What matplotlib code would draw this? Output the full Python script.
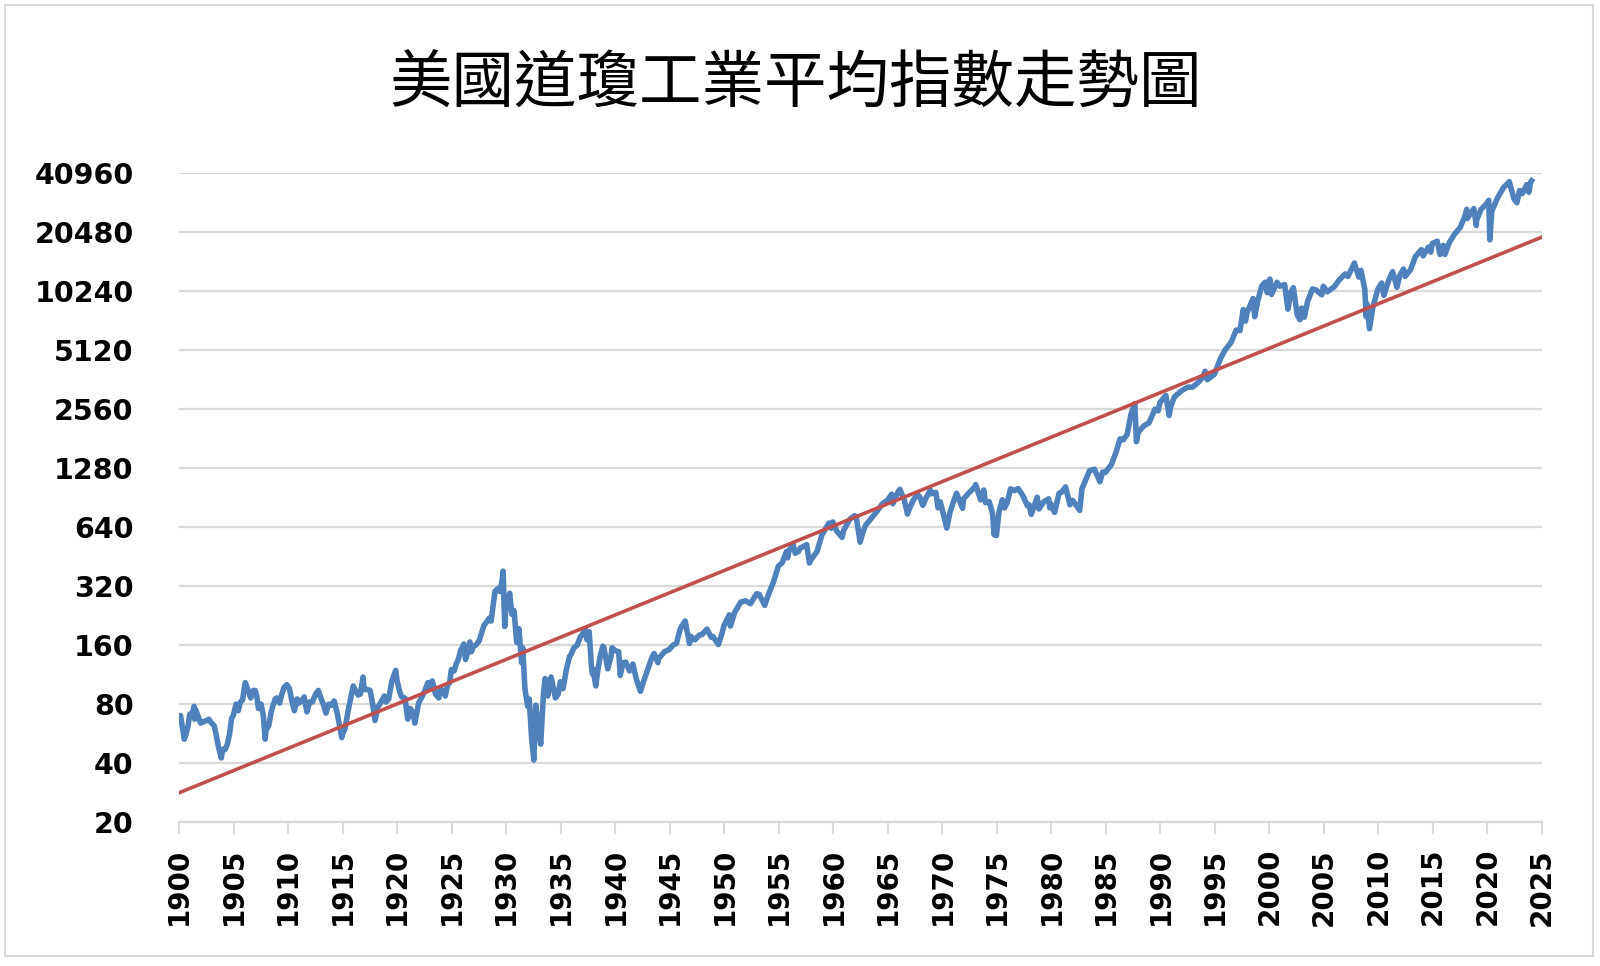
import matplotlib
matplotlib.use("Agg")
import matplotlib.pyplot as plt
from matplotlib.patches import Rectangle
from matplotlib.ticker import FixedLocator, NullLocator

# Dow Jones Industrial Average, (year, index)
dow_1900_1924 = [
    (1900.0, 68), (1900.1, 70), (1900.3, 60), (1900.45, 53), (1900.6, 56), (1900.8, 62), (1900.95, 71),
    (1901.2, 72), (1901.35, 78), (1901.4, 67), (1901.5, 75), (1901.7, 70), (1901.95, 64),
    (1902.2, 65), (1902.5, 66), (1902.7, 67), (1902.95, 64),
    (1903.2, 62), (1903.4, 55), (1903.6, 48), (1903.85, 42.5), (1903.95, 47),
    (1904.2, 47), (1904.4, 50), (1904.6, 56), (1904.8, 68), (1904.95, 70),
    (1905.2, 80), (1905.4, 74), (1905.6, 82), (1905.8, 84), (1905.95, 96),
    (1906.05, 103), (1906.3, 94), (1906.55, 86), (1906.8, 94), (1906.95, 94),
    (1907.1, 88), (1907.25, 76), (1907.5, 80), (1907.7, 70), (1907.87, 53), (1907.95, 59),
    (1908.2, 62), (1908.4, 72), (1908.6, 79), (1908.8, 85), (1908.95, 86),
    (1909.2, 81), (1909.4, 90), (1909.6, 97), (1909.85, 100.5), (1909.95, 99),
    (1910.1, 96), (1910.3, 84), (1910.55, 74), (1910.8, 85), (1910.95, 81),
    (1911.2, 83), (1911.45, 87), (1911.7, 73), (1911.95, 82),
    (1912.2, 82), (1912.5, 90), (1912.75, 94), (1912.95, 87),
    (1913.2, 80), (1913.45, 72), (1913.7, 80), (1913.95, 79),
    (1914.2, 83), (1914.5, 71), (1914.9, 54), (1914.95, 56),
    (1915.2, 60), (1915.5, 75), (1915.7, 85), (1915.95, 99),
    (1916.2, 93), (1916.4, 89), (1916.6, 90), (1916.85, 110), (1916.95, 95),
    (1917.2, 95), (1917.5, 94), (1917.75, 79), (1917.95, 66),
    (1918.2, 77), (1918.5, 82), (1918.8, 88), (1918.95, 82),
    (1919.2, 85), (1919.5, 105), (1919.85, 119), (1919.95, 107),
    (1920.2, 93), (1920.4, 87), (1920.7, 86), (1920.95, 67),
    (1921.2, 76), (1921.45, 72), (1921.6, 64), (1921.8, 73), (1921.95, 81),
    (1922.2, 86), (1922.5, 93), (1922.8, 103), (1922.95, 98),
    (1923.2, 105), (1923.5, 90), (1923.8, 86), (1923.95, 95),
    (1924.2, 94), (1924.4, 88), (1924.6, 100), (1924.8, 103), (1924.95, 120),
]
dow_1925_1949 = [
    (1925.2, 118), (1925.4, 128), (1925.6, 136), (1925.8, 150), (1925.95, 156),
    (1926.1, 162), (1926.25, 135), (1926.5, 150), (1926.65, 166), (1926.8, 148), (1926.95, 157),
    (1927.2, 160), (1927.5, 168), (1927.8, 190), (1927.95, 202),
    (1928.2, 210), (1928.45, 220), (1928.6, 212), (1928.8, 258), (1928.95, 300),
    (1929.2, 310), (1929.4, 300), (1929.6, 340), (1929.7, 381), (1929.82, 230), (1929.85, 199), (1929.95, 248),
    (1930.2, 270), (1930.3, 294), (1930.5, 230), (1930.7, 240), (1930.95, 165),
    (1931.15, 194), (1931.4, 130), (1931.5, 155), (1931.7, 96), (1931.95, 78),
    (1932.1, 85), (1932.3, 55), (1932.52, 41.5), (1932.7, 79), (1932.95, 60),
    (1933.15, 50), (1933.4, 90), (1933.55, 108), (1933.8, 88), (1933.95, 99),
    (1934.1, 110), (1934.5, 86), (1934.75, 90), (1934.95, 104),
    (1935.2, 96), (1935.5, 120), (1935.8, 140), (1935.95, 144),
    (1936.2, 155), (1936.5, 160), (1936.8, 177), (1936.95, 180),
    (1937.2, 194), (1937.4, 170), (1937.6, 187), (1937.8, 125), (1937.9, 114), (1937.95, 121),
    (1938.2, 99), (1938.4, 120), (1938.6, 140), (1938.85, 158), (1938.95, 155),
    (1939.3, 121), (1939.6, 140), (1939.7, 155), (1939.95, 150),
    (1940.3, 148), (1940.45, 112), (1940.7, 130), (1940.95, 131),
    (1941.3, 118), (1941.6, 128), (1941.95, 106),
    (1942.3, 93), (1942.6, 105), (1942.95, 119),
    (1943.3, 136), (1943.55, 145), (1943.9, 130), (1943.95, 136),
    (1944.5, 148), (1944.95, 152),
    (1945.3, 160), (1945.6, 163), (1945.95, 193),
    (1946.1, 200), (1946.4, 212), (1946.8, 163), (1946.95, 177),
    (1947.3, 170), (1947.7, 180), (1947.95, 181),
    (1948.4, 193), (1948.8, 175), (1948.95, 177),
    (1949.45, 161), (1949.8, 185), (1949.95, 200),
]
dow_1950_1974 = [
    (1950.45, 228), (1950.55, 200), (1950.95, 235),
    (1951.5, 265), (1951.95, 269),
    (1952.4, 260), (1952.95, 292),
    (1953.2, 290), (1953.7, 255), (1953.95, 281),
    (1954.5, 335), (1954.95, 404),
    (1955.3, 420), (1955.7, 480), (1955.8, 445), (1955.95, 488),
    (1956.3, 521), (1956.5, 470), (1956.8, 480), (1956.95, 499),
    (1957.55, 520), (1957.8, 419), (1957.95, 436),
    (1958.5, 480), (1958.95, 584),
    (1959.6, 670), (1959.8, 630), (1959.95, 679),
    (1960.3, 610), (1960.8, 566), (1960.95, 616),
    (1961.5, 700), (1961.95, 731),
    (1962.1, 720), (1962.45, 535), (1962.7, 600), (1962.95, 652),
    (1963.5, 710), (1963.95, 763),
    (1964.5, 840), (1964.95, 874),
    (1965.35, 940), (1965.45, 840), (1965.95, 969),
    (1966.1, 995), (1966.5, 880), (1966.8, 744), (1966.95, 786),
    (1967.3, 870), (1967.7, 943), (1967.95, 905),
    (1968.2, 825), (1968.5, 900), (1968.9, 985), (1968.95, 944),
    (1969.4, 960), (1969.6, 800), (1969.8, 860), (1969.95, 800),
    (1970.4, 631), (1970.7, 760), (1970.95, 839),
    (1971.3, 950), (1971.85, 797), (1971.95, 890),
    (1972.4, 950), (1972.95, 1020),
    (1973.05, 1052), (1973.5, 880), (1973.8, 987), (1973.95, 851),
    (1974.3, 860), (1974.6, 750), (1974.75, 584), (1974.85, 670), (1974.95, 578),
]
dow_1975_2024 = [
    (1975.2, 770), (1975.5, 880), (1975.7, 800), (1975.95, 852),
    (1976.25, 1000), (1976.6, 980), (1976.95, 1004),
    (1977.4, 920), (1977.8, 820), (1977.95, 831),
    (1978.15, 742), (1978.7, 907), (1978.85, 790), (1978.95, 805),
    (1979.3, 860), (1979.75, 890), (1979.85, 800), (1979.95, 839),
    (1980.3, 759), (1980.7, 950), (1980.95, 964),
    (1981.3, 1024), (1981.7, 830), (1981.95, 875),
    (1982.6, 777), (1982.8, 1000), (1982.95, 1047),
    (1983.5, 1240), (1983.95, 1259),
    (1984.45, 1087), (1984.7, 1220), (1984.95, 1212),
    (1985.5, 1330), (1985.95, 1547),
    (1986.3, 1800), (1986.6, 1780), (1986.95, 1896),
    (1987.3, 2400), (1987.65, 2722), (1987.8, 1739), (1987.95, 1939),
    (1988.5, 2100), (1988.95, 2169),
    (1989.5, 2550), (1989.8, 2500), (1989.95, 2753),
    (1990.5, 2999), (1990.8, 2365), (1990.95, 2634),
    (1991.3, 2950), (1991.95, 3169),
    (1992.5, 3300), (1992.95, 3301),
    (1993.5, 3500), (1993.95, 3754),
    (1994.1, 3978), (1994.3, 3600), (1994.95, 3834),
    (1995.5, 4600), (1995.95, 5117),
    (1996.5, 5600), (1996.95, 6448),
    (1997.3, 6400), (1997.6, 8200), (1997.8, 7160), (1997.95, 7908),
    (1998.5, 9338), (1998.65, 7539), (1998.95, 9181),
    (1999.3, 10800), (1999.6, 11300), (1999.8, 10000), (1999.95, 11497),
    (2000.05, 11723), (2000.2, 9796), (2000.7, 11300), (2000.95, 10787),
    (2001.4, 11000), (2001.7, 8236), (2001.95, 10022),
    (2002.2, 10600), (2002.55, 7700), (2002.8, 7286), (2002.95, 8342),
    (2003.2, 7500), (2003.5, 9000), (2003.95, 10454),
    (2004.3, 10300), (2004.8, 9750), (2004.95, 10783),
    (2005.3, 10100), (2005.95, 10718),
    (2006.4, 11600), (2006.95, 12463),
    (2007.2, 12100), (2007.8, 14165), (2007.95, 13265),
    (2008.2, 12000), (2008.4, 13000), (2008.75, 10400), (2008.88, 7552), (2008.95, 8776),
    (2009.18, 6547), (2009.5, 8500), (2009.95, 10428),
    (2010.3, 11200), (2010.5, 9700), (2010.95, 11578),
    (2011.3, 12800), (2011.7, 10650), (2011.95, 12218),
    (2012.3, 13200), (2012.45, 12100), (2012.95, 13104),
    (2013.4, 15300), (2013.95, 16577),
    (2014.1, 15400), (2014.6, 17100), (2014.8, 16100), (2014.95, 17823),
    (2015.4, 18300), (2015.65, 15660), (2015.95, 17425),
    (2016.1, 15660), (2016.5, 18000), (2016.95, 19763),
    (2017.5, 21500), (2017.95, 24719),
    (2018.1, 26600), (2018.15, 23860), (2018.75, 26828), (2018.98, 22000), (2019.0, 23327),
    (2019.4, 26500), (2019.95, 28538),
    (2020.12, 29551), (2020.22, 18591), (2020.4, 26000), (2020.95, 30606),
    (2021.5, 34500), (2021.95, 36338),
    (2022.0, 36800), (2022.45, 30000), (2022.7, 28725), (2022.95, 33147),
    (2023.2, 32000), (2023.6, 35500), (2023.8, 32500), (2023.95, 36500),
    (2024.05, 37200),
]

trend_years = [1900, 2025]
trend_vals = [28.3, 19200]

y_ticks = [20, 40, 80, 160, 320, 640, 1280, 2560, 5120, 10240, 20480, 40960]
x_ticks = list(range(1900, 2026, 5))

title = "美國道瓊工業平均指數走勢圖"

pts = dow_1900_1924 + dow_1925_1949 + dow_1950_1974 + dow_1975_2024
years = [p[0] for p in pts]
dow = [p[1] for p in pts]

grid_c = "#D9D9D9"

fig = plt.figure(figsize=(16, 9.66), dpi=100)
ax = fig.add_axes([0.1121, 0.1488, 0.8516, 0.6726])

ax.plot(years, dow, color="#4F81BD", lw=4.0, solid_joinstyle="round", zorder=3)
ax.plot(trend_years, trend_vals, color="#C0504D", lw=2.6, zorder=4)

ax.set_yscale("log", base=2)
ax.set_ylim(20, 40960)
ax.set_xlim(1900, 2025)
ax.yaxis.set_major_locator(FixedLocator(y_ticks))
ax.yaxis.set_minor_locator(NullLocator())
ax.set_yticklabels([str(v) for v in y_ticks])
ax.set_xticks(x_ticks)
ax.set_xticklabels([str(v) for v in x_ticks], rotation=90)
ax.xaxis.set_minor_locator(NullLocator())

for lab in ax.get_yticklabels():
    lab.set_fontfamily("DejaVu Sans")
    lab.set_fontweight("bold")
    lab.set_fontsize(20.5)
for lab in ax.get_xticklabels():
    lab.set_fontfamily("DejaVu Sans")
    lab.set_fontweight("bold")
    lab.set_fontsize(20)

ax.grid(axis="y", color=grid_c, lw=1.6, zorder=0)
ax.tick_params(axis="y", length=0, pad=33)
ax.tick_params(axis="x", length=8.5, width=1.5, color=grid_c, pad=10)
for s in ["top", "right", "left"]:
    ax.spines[s].set_visible(False)
ax.spines["bottom"].set_color(grid_c)
ax.spines["bottom"].set_linewidth(1.6)

fig.text(0.4975, 0.913, title, ha="center", va="center", fontsize=45,
         family=["Noto Sans CJK TC", "DejaVu Sans"])

fig.patches.append(Rectangle((0.003, 0.0104), 0.9925, 0.9845, transform=fig.transFigure,
                             fill=False, edgecolor=grid_c, lw=1.5))

fig.savefig("out.png", dpi=100)
